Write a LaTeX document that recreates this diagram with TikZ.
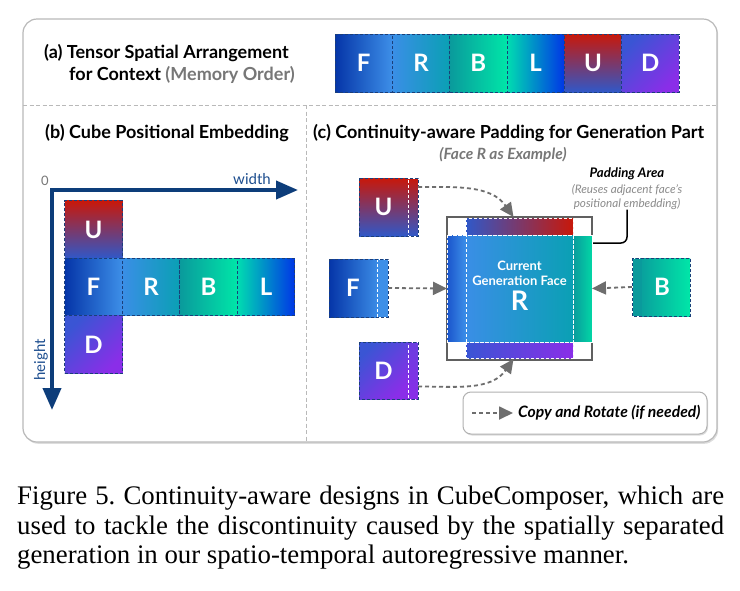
\documentclass[tikz,border=0pt]{standalone}
\usepackage{fontspec}
\setmainfont{Lato}
\newfontfamily\capfont{Liberation Serif}
\usetikzlibrary{arrows.meta,calc,shadows}
\definecolor{navyd}{HTML}{1B3F7A}
\definecolor{axisc}{HTML}{0D3D7A}
\definecolor{axistxt}{HTML}{1D4E8F}
\definecolor{cF1}{HTML}{0535A8}
\definecolor{cF2}{HTML}{3D8FE8}
\definecolor{cR1}{HTML}{3A8EE6}
\definecolor{cR2}{HTML}{0AA0B4}
\definecolor{cB1}{HTML}{0A9A9C}
\definecolor{cB2}{HTML}{00E6A8}
\definecolor{cL1}{HTML}{00DDB0}
\definecolor{cL2}{HTML}{0036E6}
\definecolor{cU1}{HTML}{C8180A}
\definecolor{cU2}{HTML}{3058C8}
\definecolor{cD1}{HTML}{3A55D4}
\definecolor{cD2}{HTML}{8A2EE8}
\definecolor{cPL1}{HTML}{1A55CC}
\definecolor{grayarrow}{HTML}{6E6E6E}
\definecolor{txtgray}{HTML}{777777}
\begin{document}
\begin{tikzpicture}[x=1pt,y=-1pt,
  facefill/.style={rectangle, inner sep=0pt, outer sep=0pt, text=white, font=\fontsize{24}{24}\selectfont\bfseries},
  face/.style={facefill, minimum width=57.5pt, minimum height=57.5pt, draw=navyd, dash pattern=on 3pt off 2pt, line width=0.9pt},
  outline/.style={draw=navyd, dash pattern=on 3pt off 2pt, line width=0.9pt},
  gF/.style={left color=cF1, right color=cF2},
  gR/.style={left color=cR1, right color=cR2},
  gB/.style={left color=cB1, right color=cB2},
  gL/.style={left color=cL1, right color=cL2},
  gU/.style={top color=cU1, bottom color=cU2},
  gD/.style={top color=cD1, bottom color=cD2, shading angle=45},
  title/.style={font=\fontsize{18}{21}\selectfont\bfseries, inner sep=0pt, anchor=base west},
  cparrow/.style={draw=grayarrow, line width=1.8pt, dash pattern=on 4pt off 3pt, -{Triangle[length=14pt,width=13pt]}},
  strip/.style={rectangle, inner sep=0pt, outer sep=0pt, draw=white, dash pattern=on 3pt off 2pt, line width=0.9pt},
  divider/.style={draw=gray!55, line width=1pt, dash pattern=on 4pt off 2.5pt},
]
\useasboundingbox (0,0) rectangle (740,590);
% outer frame
\draw[rounded corners=14pt, draw=gray!55, line width=1.2pt, fill=white,
      drop shadow={shadow xshift=1.2pt, shadow yshift=-1.8pt, fill=gray!45, opacity=0.6}] (23,19) rectangle (717,442);
\draw[divider] (23,105) -- (717,105);
\draw[divider] (306,105) -- (306,442);

% ---------- panel (a)
\node[title] (ta1) at (44,58) {(a) Tensor Spatial Arrangement};
\node[title] (ta2) at (69,80) {for Context \textcolor{txtgray}{(Memory Order)}};
\node[face, gF, minimum width=57.33pt, minimum height=58pt] (aF) at (363.67,63) {F};
\node[face, gR, minimum width=57.33pt, minimum height=58pt] (aR) at (421,63) {R};
\node[face, gB, minimum width=57.33pt, minimum height=58pt] (aB) at (478.33,63) {B};
\node[face, gL, minimum width=57.33pt, minimum height=58pt] (aL) at (535.67,63) {L};
\node[face, gU, minimum width=57.33pt, minimum height=58pt] (aU) at (593,63) {U};
\node[face, gD, minimum width=57.33pt, minimum height=58pt] (aD) at (650.33,63) {D};

% ---------- panel (b)
\node[title] (tb) at (45,138) {(b) Cube Positional Embedding};
\coordinate (O) at (52,190);
\coordinate (Wend) at (298,190);
\coordinate (Hend) at (52,410);
\draw[axisc, line width=4pt, -{Triangle[length=22pt,width=18pt]}] ($(O)+(-2,0)$) -- (Wend);
\draw[axisc, line width=4pt, -{Triangle[length=22pt,width=18pt]}] ($(O)+(0,-2)$) -- (Hend);
\node[text=axistxt, font=\fontsize{15}{15}\selectfont, anchor=base, inner sep=0pt] (wl) at (252,184) {width};
\node[text=txtgray, font=\fontsize{13}{13}\selectfont, inner sep=0pt] (zero) at (45,181) {0};
\node[text=axistxt, font=\fontsize{15}{15}\selectfont, rotate=90, inner sep=0pt] (hl) at (41,360) {height};
\node[face, gU] (bU) at (93.5,229.5) {U};
\node[face, gF] (bF) at (93.5,287) {F};
\node[face, gR] (bR) at (151,287) {R};
\node[face, gB] (bB) at (208.5,287) {B};
\node[face, gL] (bL) at (266,287) {L};
\node[face, gD] (bD) at (93.5,344.5) {D};

% ---------- panel (c)
\node[title] (tc) at (313,138) {(c) Continuity-aware Padding for Generation Part};
\node[font=\fontsize{15.5}{15.5}\selectfont\bfseries\itshape, text=txtgray, anchor=base, inner sep=0pt] (tc2) at (503,159) {(Face R as Example)};
\node[font=\fontsize{13.2}{13.2}\selectfont\bfseries\itshape, anchor=base, inner sep=0pt] (pa1) at (627,177) {Padding Area};
\node[font=\fontsize{11.7}{14}\selectfont\itshape, text=txtgray!85, align=center, anchor=north, inner sep=0pt] (pa2) at (627,184) {(Reuses adjacent face's\\positional embedding)};

% central structure
\node[rectangle, draw=gray!75!black, line width=1.4pt, fill=white, minimum width=145pt, minimum height=143pt, inner sep=0pt, outer sep=0pt] (frame) at (519.5,288.5) {};
\node[strip, left color=cPL1, right color=cF2, minimum width=19pt, minimum height=107pt] (padL) at (456.5,288.5) {};
\node[strip, left color=cB1, right color=cB2!80!cB1, minimum width=19pt, minimum height=107pt] (padR) at (582.5,288.5) {};
\node[strip, left color=cU2, right color=cU1, minimum width=107pt, minimum height=17pt] (padT) at (519.5,226.5) {};
\node[strip, left color=cD1, right color=cD2, minimum width=107pt, minimum height=16pt] (padB) at (519.5,350) {};
\node[strip, gR, minimum width=107pt, minimum height=107pt] (Rc) at (519.5,288.5) {};
\draw[strip] (padL.north west) rectangle (padR.south east);
\node[text=white, align=center, font=\fontsize{13}{15}\selectfont\bfseries, inner sep=0pt] (Rlbl) at (519.5,286) {Current\\Generation Face\\[4pt]{\fontsize{27}{27}\selectfont R}};

% side faces
\node[facefill, gU, minimum width=49pt, minimum height=58pt] (Uf) at (383.5,207) {U};
\node[strip, gU, minimum width=10pt, minimum height=58pt] (Us) at (413,207) {};
\draw[outline] (Uf.north west) rectangle (Us.south east);

\node[facefill, left color=cF1, right color=cF2!95!cF1, minimum width=48pt, minimum height=58pt] (Ff) at (353,288) {F};
\node[strip, fill=cF2, minimum width=11pt, minimum height=58pt] (Fs) at (382.5,288) {};
\draw[outline] (Ff.north west) rectangle (Fs.south east);

\node[facefill, gD, minimum width=49pt, minimum height=57pt] (Df) at (383.5,370.5) {D};
\node[strip, top color=cD1!40!cD2, bottom color=cD2, minimum width=10pt, minimum height=57pt] (Ds) at (413,370.5) {};
\draw[outline] (Df.north west) rectangle (Ds.south east);

\node[strip, fill=cB1, minimum width=10pt, minimum height=58pt] (Bs) at (637,287) {};
\node[facefill, left color=cB1!90!cB2, right color=cB2, minimum width=48pt, minimum height=58pt] (Bf) at (666,287) {B\hspace*{8pt}};
\draw[outline] (Bs.north west) rectangle (Bf.south east);

% arrows
\draw[cparrow] ($(Us.north east)+(0,9)$) to[out=0,in=125] ($(padT.north)+(-6,-1)$);
\draw[cparrow] (Fs.east) -- (padL.west);
\draw[cparrow] (Bs.west) -- (padR.east);
\draw[cparrow] ($(Ds.east)+(0,16)$) to[out=0,in=-125] ($(padB.south)+(-6,1)$);

% padding connector
\coordinate (padEnd) at (593,243);
\draw[black, line width=1.5pt, rounded corners=6pt] (pa2.south) |- (padEnd);

% legend
\node[draw=gray!60, line width=1pt, rounded corners=8pt, fill=white, minimum width=244pt, minimum height=42pt,
      drop shadow={shadow xshift=1pt, shadow yshift=-1.5pt, fill=gray!45, opacity=0.6}] (legend) at (585,413) {};
\coordinate (lgA) at (472,413);
\coordinate (lgB) at (513,413);
\draw[cparrow] (lgA) -- (lgB);
\node[font=\fontsize{15.7}{15.7}\selectfont\bfseries\itshape, anchor=west, inner sep=0pt] (lgT) at (518,413) {Copy and Rotate (if needed)};

% caption
\node[anchor=north west, inner sep=0pt, text width=707pt, align=justify, font=\capfont\fontsize{26.8}{29.5}\selectfont] (cap) at (17,486) {Figure 5.\ Continuity-aware designs in CubeComposer, which are\linebreak used to tackle the discontinuity caused by the spatially separated\linebreak generation in our spatio-temporal autoregressive manner.};
\end{tikzpicture}
\end{document}
